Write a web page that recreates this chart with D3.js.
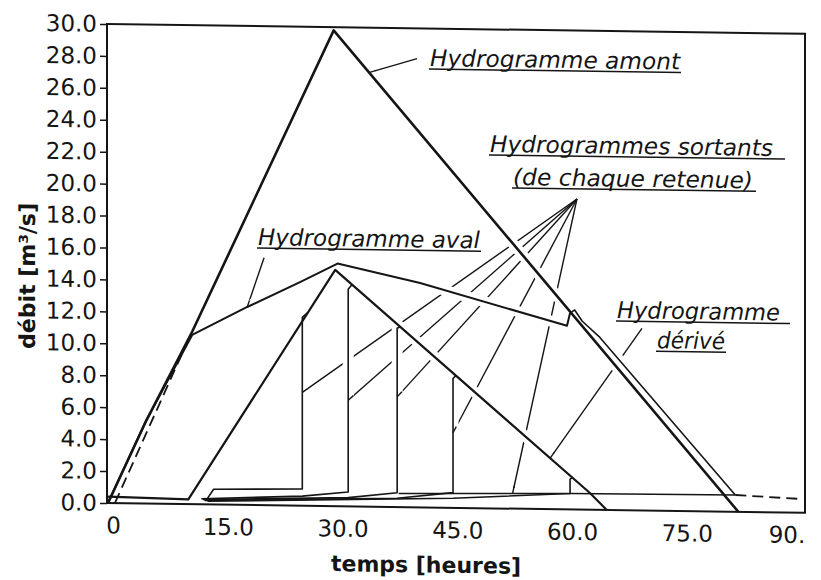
<!DOCTYPE html>
<html>
<head>
<meta charset="utf-8">
<script src="https://cdn.jsdelivr.net/npm/d3@7"></script>
<style>
  body { margin: 0; background: #fff; }
  svg { display: block; }
  text { font-family: "DejaVu Sans", sans-serif; fill: #151515; }
</style>
</head>
<body>
<svg id="chart" width="821" height="580"></svg>
<script>
// axes
const xTicks = [0, 15, 30, 45, 60, 75, 90];
const xTickLabels = ["0", "15.0", "30.0", "45.0", "60.0", "75.0", "90."];
const yTicks = d3.range(0, 31, 2);

// hydrogrammes : [temps (h), débit (m3/s)]
const amont = [[0, 0], [5, 5.2], [11, 10.8], [29.5, 29.8], [82.4, 0]];
const aval = [[0, 0], [5, 5.2], [11, 10.6], [18.2, 12.4], [25.1, 14.0], [30, 15.2], [40.8, 14.05], [60, 11.5], [60.4, 12.3]];
const sortant1 = [[0, 0.4], [10.5, 0.3], [29.7, 14.8], [63, 1.05], [65.2, 0]];
const sortant2 = [[12.9, 0.3], [13.8, 0.95], [25.4, 1.05], [25.4, 11.8], [26.1, 12.1]];
const sortant3 = [[12.2, 0.35], [25.4, 0.6], [31.4, 0.9], [31.4, 13.6], [31.9, 13.9]];
const sortant4 = [[12.4, 0.3], [31.4, 0.55], [37.8, 0.9], [37.8, 11.2], [38.2, 11.3]];
const sortant5 = [[12.6, 0.25], [37.8, 0.55], [45.1, 0.95], [45.1, 8.1], [45.5, 8.3]];
const sortant6 = [[13, 0.2], [45.1, 0.6], [60.4, 1.0], [60.4, 1.9], [60.7, 2.0]];
const deriveHaut = [[60.4, 12.3], [61.0, 12.5], [62.0, 11.8], [64.3, 10.8], [82, 1.05]];
const deriveBase = [[38, 0.85], [60.4, 1.0], [82, 1.05]];
const deriveDebut = [[0.9, 0], [10.5, 10.3]];
const deriveFin = [[82, 1.05], [90.5, 0.86]];

// renvois des étiquettes
const hub = [61.3, 19.45];
const sortantsCibles = [[25.4, 7.1], [31.4, 6.65], [37.8, 6.9], [45.1, 4.7], [52.9, 0.98]];
const renvois = [
  [[34.2, 27.2], [40.4, 28.1]],
  [[18.2, 12.4], [20.4, 15.5]],
  [[57.8, 3.2], [69.8, 11.4]]
].concat(sortantsCibles.map(c => [c, hub]));

const svg = d3.select("#chart");
const mLeft = 107, mRight = 805, mTop = 24, mBottom = 503;

const x = d3.scaleLinear().domain([0, 90]).range([108, 796.5]);
const y = d3.scaleLinear().domain([0, 30]).range([mBottom, mTop]);

// the scanned page is slightly sheared
const g = svg.append("g")
  .attr("transform", `translate(${mLeft},0) skewY(0.8) translate(${-mLeft},0)`);

const line = d3.line().x(d => x(d[0])).y(d => y(d[1]));
const ink = "#151515";

// leaders first, then white halos so they look broken at crossings
g.selectAll(".renvoi").data(renvois).enter().append("path")
  .attr("d", line).attr("fill", "none").attr("stroke", ink).attr("stroke-width", 1.4);

const courbes = [
  { d: sortant2, w: 1.6 }, { d: sortant3, w: 1.6 }, { d: sortant4, w: 1.6 },
  { d: sortant5, w: 1.6 }, { d: sortant6, w: 1.6 }, { d: deriveBase, w: 1.6 },
  { d: deriveHaut, w: 1.6 }, { d: sortant1, w: 2.2 }, { d: aval, w: 2.0 },
  { d: amont, w: 2.6 }
];

g.selectAll(".halo").data(courbes).enter().append("path")
  .attr("d", d => line(d.d)).attr("fill", "none")
  .attr("stroke", "#fff").attr("stroke-width", 11);

g.selectAll(".courbe").data(courbes).enter().append("path")
  .attr("d", d => line(d.d)).attr("fill", "none")
  .attr("stroke", ink).attr("stroke-width", d => d.w)
  .attr("stroke-linejoin", "round");

// re-attach the leader tips to the curves
g.selectAll(".bout").data(renvois).enter().append("path")
  .attr("d", d => {
    const x0 = x(d[0][0]), y0 = y(d[0][1]), x1 = x(d[1][0]), y1 = y(d[1][1]);
    const L = Math.hypot(x1 - x0, y1 - y0), f = 7 / L;
    return `M${x0},${y0}L${x0 + (x1 - x0) * f},${y0 + (y1 - y0) * f}`;
  })
  .attr("stroke", ink).attr("stroke-width", 1.4);

[deriveDebut, deriveFin].forEach(d => {
  g.append("path").attr("d", line(d)).attr("fill", "none")
    .attr("stroke", ink).attr("stroke-width", 1.8).attr("stroke-dasharray", "11,6");
});

// frame
g.append("rect").attr("x", mLeft).attr("y", mTop)
  .attr("width", mRight - mLeft).attr("height", mBottom - mTop)
  .attr("fill", "none").attr("stroke", ink).attr("stroke-width", 2);

// axes
const yAxis = g.append("g").attr("transform", `translate(${mLeft},0)`)
  .call(d3.axisLeft(y).tickValues(yTicks).tickSize(7).tickPadding(3).tickFormat(d3.format(".1f")));
yAxis.select(".domain").remove();
yAxis.selectAll("line").attr("stroke", ink).attr("stroke-width", 1.5);
yAxis.selectAll("text").attr("font-size", 23).attr("font-family", "DejaVu Sans").attr("fill", ink);

const xAxis = g.append("g").attr("transform", `translate(0,${mBottom})`)
  .call(d3.axisBottom(x).tickValues(xTicks).tickSize(0).tickPadding(14)
    .tickFormat((d, i) => xTickLabels[i]));
xAxis.select(".domain").remove();
xAxis.selectAll("text").attr("font-size", 23).attr("font-family", "DejaVu Sans").attr("fill", ink)
  .attr("dx", d => d === 90 ? -10 : 5);

g.append("text").attr("x", 426).attr("y", 568).attr("text-anchor", "middle")
  .attr("font-size", 22).attr("font-weight", "bold").text("temps [heures]");
g.append("text").attr("transform", "translate(35,277) rotate(-90)").attr("text-anchor", "middle")
  .attr("font-size", 22).attr("font-weight", "bold").text("débit [m³/s]");

// annotations
const notes = [
  { t: "Hydrogramme amont", x: 430, y: 61.5, w: 250, u: 252 },
  { t: "Hydrogramme aval", x: 258, y: 243, w: 222, u: 224 },
  { t: "Hydrogrammes sortants", x: 490, y: 146.6, w: 283, u: 296 },
  { t: "(de chaque retenue)", x: 513, y: 179.3, w: 240, u: 244 },
  { t: "Hydrogramme", x: 617, y: 311, w: 163, u: 174 },
  { t: "dérivé", x: 657, y: 340.5, w: 68, u: 70 }
];
notes.forEach(n => {
  g.append("text").attr("x", n.x).attr("y", n.y)
    .attr("font-size", 23).attr("font-style", "italic")
    .attr("textLength", n.w).attr("lengthAdjust", "spacingAndGlyphs").text(n.t);
  g.append("line").attr("x1", n.x - 1).attr("x2", n.x - 1 + n.u)
    .attr("y1", n.y + 3).attr("y2", n.y + 3)
    .attr("stroke", ink).attr("stroke-width", 1.5);
});
</script>
</body>
</html>
